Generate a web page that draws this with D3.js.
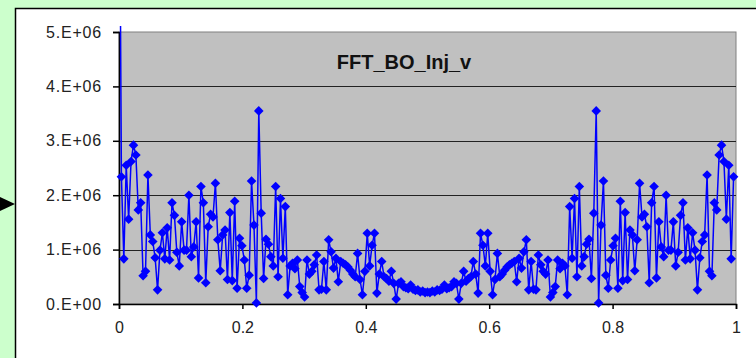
<!DOCTYPE html>
<html>
<head>
<meta charset="utf-8">
<script src="https://cdn.jsdelivr.net/npm/d3@7"></script>
<style>
  html, body { margin: 0; padding: 0; background: #ccffcc; }
  svg { display: block; }
  text { font-family: "Liberation Sans", Arial, sans-serif; }
</style>
</head>
<body>
<svg id="chart" width="756" height="358"></svg>
<script>
const chartTitle = "FFT_BO_Inj_v";
const sampleCount = 256; // x = i / sampleCount

// magnitudes for bins 0..128 (bin 0 goes off the top of the axis)
const magLeft = [
  10.0, 2.34, 0.83, 2.55, 1.56, 2.62, 2.92, 2.74, 1.73, 1.86,
  0.52, 0.60, 2.37, 1.27, 1.15, 0.85, 0.26, 0.99, 1.31, 0.83,
  1.40, 0.81, 1.86, 1.63, 0.95, 0.70, 1.51, 0.99, 0.99, 2.00,
  0.87, 1.05, 1.51, 0.48, 2.16, 1.86, 0.39, 1.42, 1.65, 1.60,
  2.22, 1.18, 0.61, 1.27, 1.36, 0.45, 1.68, 0.43, 1.89, 0.29,
  1.21, 1.07, 0.81, 0.29, 0.53, 2.26, 1.45, 0.02, 3.55, 1.67,
  0.47, 1.19, 1.10, 0.87, 0.70, 2.16, 0.50, 1.94, 0.84, 1.79,
  0.17, 0.70, 0.75, 0.65, 0.81, 0.32, 0.21, 0.13, 0.81, 0.55,
  0.60, 0.72, 0.90, 0.26, 0.27, 0.78, 0.26, 1.18, 0.96, 0.66,
  0.84, 0.41, 0.78, 0.75, 0.72, 0.68, 0.62, 0.55, 0.50, 0.93,
  0.45, 0.17, 0.60, 1.30, 0.70, 1.08, 1.30, 0.20, 0.55, 0.78,
  0.50, 0.47, 0.42, 0.60, 0.38, 0.09, 0.38, 0.41, 0.32, 0.30,
  0.28, 0.35, 0.27, 0.25, 0.26, 0.22, 0.24, 0.21, 0.22
];

// magnitudes for bins 129..255
const magRight = [
  0.21, 0.24, 0.22, 0.26, 0.25, 0.27, 0.35, 0.28, 0.30, 0.32,
  0.41, 0.38, 0.09, 0.38, 0.60, 0.42, 0.47, 0.50, 0.78, 0.55,
  0.20, 1.30, 1.08, 0.70, 1.30, 0.60, 0.17, 0.45, 0.93, 0.50,
  0.55, 0.62, 0.68, 0.72, 0.75, 0.78, 0.41, 0.84, 0.66, 0.96,
  1.18, 0.26, 0.78, 0.27, 0.26, 0.90, 0.72, 0.60, 0.55, 0.81,
  0.13, 0.21, 0.32, 0.81, 0.65, 0.75, 0.70, 0.17, 1.79, 0.84,
  1.94, 0.50, 2.16, 0.70, 0.87, 1.10, 1.19, 0.47, 1.67, 3.55,
  0.02, 1.45, 2.26, 0.53, 0.29, 0.81, 1.07, 1.21, 0.29, 1.89,
  0.43, 1.68, 0.45, 1.36, 1.27, 0.61, 1.18, 2.22, 1.60, 1.65,
  1.42, 0.39, 1.86, 2.16, 0.48, 1.51, 1.05, 0.87, 2.00, 0.99,
  0.99, 1.51, 0.70, 0.95, 1.63, 1.86, 0.81, 1.40, 0.83, 1.31,
  0.99, 0.26, 0.85, 1.15, 1.27, 2.37, 0.60, 0.52, 1.86, 1.73,
  2.74, 2.92, 2.62, 1.56, 2.55, 0.83, 2.34
];

const yTicks = [0, 1e6, 2e6, 3e6, 4e6, 5e6];
const yTickLabels = ["0.E+00", "1.E+06", "2.E+06", "3.E+06", "4.E+06", "5.E+06"];
const xTicks = [0, 0.2, 0.4, 0.6, 0.8, 1];
const xTickLabels = ["0", "0.2", "0.4", "0.6", "0.8", "1"];

const points = magLeft.concat(magRight).map((m, i) => ({ f: i / sampleCount, v: m * 1e6 }));

const svg = d3.select("#chart");
const plot = { left: 119, top: 32, right: 736, bottom: 304 };

// white chart panel and the little arrow on the left
svg.append("rect")
  .attr("x", 15.5).attr("y", 8.5)
  .attr("width", 800).attr("height", 400)
  .attr("fill", "#fff").attr("stroke", "#000").attr("stroke-width", 1.5);

svg.append("path")
  .attr("d", "M-2,196 L15,204 L-2,212 Z")
  .attr("fill", "#000");

const x = d3.scaleLinear().domain([0, 1]).range([plot.left, plot.right]);
const y = d3.scaleLinear().domain([0, 5e6]).range([plot.bottom, plot.top]);

// plot area
svg.append("rect")
  .attr("x", plot.left).attr("y", plot.top)
  .attr("width", plot.right - plot.left).attr("height", plot.bottom - plot.top)
  .attr("fill", "#c0c0c0").attr("stroke", "#808080").attr("stroke-width", 1);

// gridlines
svg.append("g")
  .selectAll("line")
  .data(yTicks.filter((d) => d > 0 && d < 5e6))
  .enter()
  .append("line")
  .attr("x1", plot.left).attr("x2", plot.right)
  .attr("y1", (d) => Math.round(y(d)) + 0.5).attr("y2", (d) => Math.round(y(d)) + 0.5)
  .attr("stroke", "#222").attr("stroke-width", 1);

// axes
const yAxis = svg.append("g")
  .attr("transform", `translate(${plot.left},0)`)
  .call(d3.axisLeft(y).tickValues(yTicks).tickFormat((d, i) => yTickLabels[i]).tickSize(6).tickPadding(11));

const xAxis = svg.append("g")
  .attr("transform", `translate(0,${plot.bottom})`)
  .call(d3.axisBottom(x).tickValues(xTicks).tickFormat((d, i) => xTickLabels[i]).tickSize(5).tickPadding(13));

[yAxis, xAxis].forEach((ax) => {
  ax.select(".domain").attr("stroke", "#000").attr("stroke-width", 1.5);
  ax.selectAll(".tick line").attr("stroke", "#000").attr("stroke-width", 1.5);
  ax.selectAll("text").attr("font-size", 16).attr("fill", "#222")
    .attr("font-family", "'Liberation Sans', Arial, sans-serif");
});
yAxis.selectAll("text").attr("letter-spacing", 0.8);

// series, clipped to the plot area (bin 0 shoots past the top)
svg.append("clipPath").attr("id", "clip")
  .append("rect")
  .attr("x", plot.left - 6).attr("y", 26)
  .attr("width", plot.right - plot.left + 12).attr("height", plot.bottom - 26 + 8);

const series = svg.append("g").attr("clip-path", "url(#clip)");

series.append("path")
  .datum(points)
  .attr("fill", "none")
  .attr("stroke", "#0000ff")
  .attr("stroke-width", 1.5)
  .attr("d", d3.line().x((d) => x(d.f)).y((d) => y(d.v)));

series.selectAll(".mk")
  .data(points)
  .enter()
  .append("path")
  .attr("class", "mk")
  .attr("transform", (d) => `translate(${x(d.f)},${y(d.v)})`)
  .attr("d", "M0,-4.8 L4.8,0 L0,4.8 L-4.8,0 Z")
  .attr("fill", "#0000ff");

// title
svg.append("text")
  .attr("x", 404).attr("y", 69)
  .attr("text-anchor", "middle")
  .attr("font-size", 20).attr("font-weight", "bold")
  .attr("fill", "#111")
  .text(chartTitle);
</script>
</body>
</html>
